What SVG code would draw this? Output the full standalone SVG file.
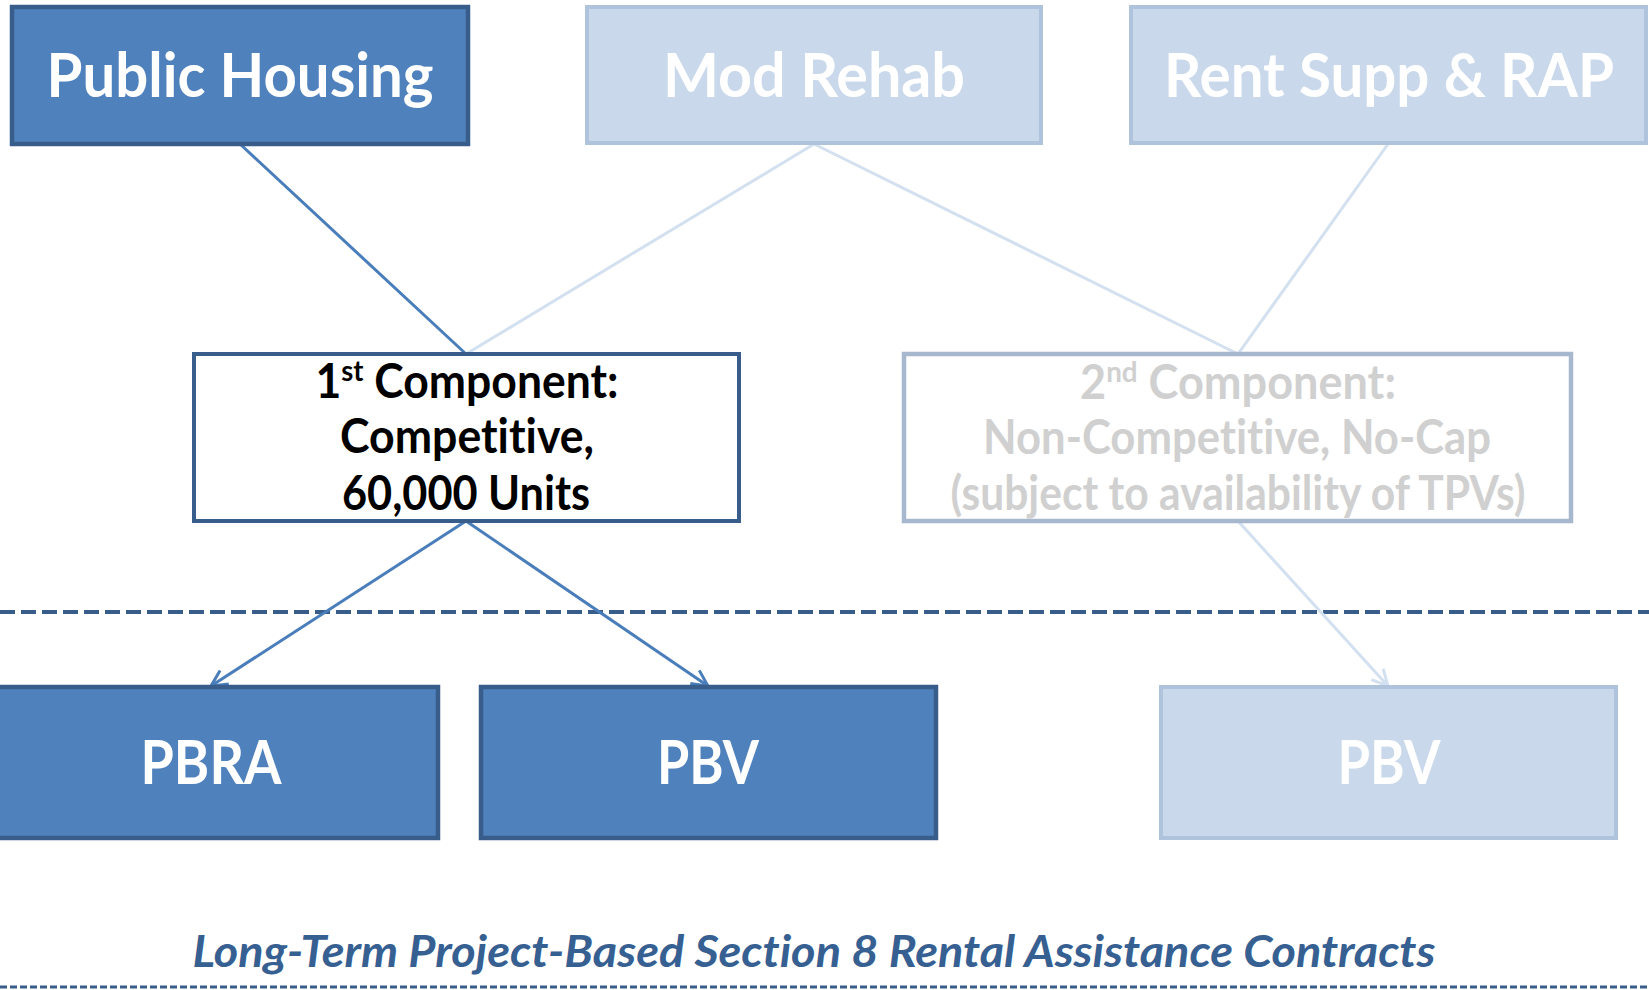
<svg xmlns="http://www.w3.org/2000/svg" width="1649" height="990" viewBox="0 0 1649 990">
<defs>
<style>
text{font-variant-ligatures:none}
.dark rect{fill:#4F81BD;stroke:#385D8A;stroke-width:4.5}
.light rect{fill:#C9D8EA;stroke:#B0C3DC;stroke-width:4}
.t{font-family:Lato,"Open Sans","Liberation Sans",sans-serif;font-weight:bold;text-anchor:middle}
.w{fill:#FFFFFF}
.big{font-size:62px}
.mid{font-size:47px}
.blk{fill:#000000}
.gry{fill:#D0D0D0}
.cd{stroke:#4A7EBB;stroke-width:3;fill:none}
.cl{stroke:#D3E0F0;stroke-width:3;fill:none}
.dash{fill:none;stroke:#385D8A}
</style>
<marker id="ad" viewBox="0 0 20 20" refX="18" refY="10" markerWidth="20" markerHeight="20" markerUnits="userSpaceOnUse" orient="auto">
<path d="M2,2 L18,10 L2,18" fill="none" stroke="#4A7EBB" stroke-width="3"/>
</marker>
<marker id="al" viewBox="0 0 20 20" refX="18" refY="10" markerWidth="20" markerHeight="20" markerUnits="userSpaceOnUse" orient="auto">
<path d="M2,2 L18,10 L2,18" fill="none" stroke="#D3E0F0" stroke-width="3"/>
</marker>
</defs>
<rect width="1649" height="990" fill="#FFFFFF"/>
<g id="dividers">
<line class="dash" x1="0" y1="612" x2="1649" y2="612" stroke-width="4" stroke-dasharray="15 6"/>
<line class="dash" x1="0" y1="987" x2="1649" y2="987" stroke-width="3" stroke-dasharray="7 3"/>
</g>
<g id="connectors">
<line class="cl" x1="814" y1="144" x2="466" y2="354"/>
<line class="cl" x1="814" y1="144" x2="1238" y2="354"/>
<line class="cl" x1="1388" y1="144" x2="1238" y2="354"/>
<line class="cd" x1="240" y1="144" x2="466" y2="354"/>
<line class="cd" x1="466" y1="521" x2="211" y2="686" marker-end="url(#ad)"/>
<line class="cd" x1="466" y1="521" x2="708" y2="686" marker-end="url(#ad)"/>
<line class="cl" x1="1238" y1="521" x2="1388" y2="686" marker-end="url(#al)"/>
</g>
<g id="public-housing" class="dark">
<rect x="12" y="7" width="456" height="137"/>
<text class="t w big" x="240" y="97" textLength="387" lengthAdjust="spacingAndGlyphs">Public Housing</text>
</g>
<g id="mod-rehab" class="light">
<rect x="587" y="7" width="454" height="136"/>
<text class="t w big" x="814" y="97" textLength="302" lengthAdjust="spacingAndGlyphs">Mod Rehab</text>
</g>
<g id="rent-supp" class="light">
<rect x="1131" y="7" width="515" height="136"/>
<text class="t w big" x="1389" y="97" textLength="450" lengthAdjust="spacingAndGlyphs">Rent Supp &amp; RAP</text>
</g>
<g id="first-component">
<rect x="194" y="354" width="545" height="167" fill="#FFFFFF" stroke="#385D8A" stroke-width="4"/>
<text class="t blk mid" x="467" y="398" textLength="303" lengthAdjust="spacingAndGlyphs">1<tspan font-size="29" dy="-17">st</tspan><tspan dy="17"> Component:</tspan></text>
<text class="t blk mid" x="467" y="453" textLength="254" lengthAdjust="spacingAndGlyphs">Competitive,</text>
<text class="t blk mid" x="466" y="510" textLength="248" lengthAdjust="spacingAndGlyphs">60,000 Units</text>
</g>
<g id="second-component">
<rect x="904" y="354" width="667" height="167" fill="#FFFFFF" stroke="#A7B8CE" stroke-width="4.5"/>
<text class="t gry mid" x="1238" y="399" textLength="316" lengthAdjust="spacingAndGlyphs">2<tspan font-size="29" dy="-17">nd</tspan><tspan dy="17"> Component:</tspan></text>
<text class="t gry mid" x="1237" y="454" textLength="508" lengthAdjust="spacingAndGlyphs">Non-Competitive, No-Cap</text>
<text class="t gry mid" x="1238" y="510" textLength="575" lengthAdjust="spacingAndGlyphs">(subject to availability of TPVs)</text>
</g>
<g id="pbra" class="dark">
<rect x="-18" y="687" width="456" height="151"/>
<text class="t w big" x="211" y="784" textLength="141" lengthAdjust="spacingAndGlyphs">PBRA</text>
</g>
<g id="pbv-1" class="dark">
<rect x="481" y="687" width="455" height="151"/>
<text class="t w big" x="708" y="784" textLength="102" lengthAdjust="spacingAndGlyphs">PBV</text>
</g>
<g id="pbv-2" class="light">
<rect x="1161" y="687" width="455" height="151"/>
<text class="t w big" x="1389" y="784" textLength="103" lengthAdjust="spacingAndGlyphs">PBV</text>
</g>
<g id="footer">
<text x="814" y="967" text-anchor="middle" font-family="Lato,'Open Sans','Liberation Sans',sans-serif" font-weight="bold" font-style="italic" font-size="44" fill="#376092" textLength="1243" lengthAdjust="spacingAndGlyphs">Long-Term Project-Based Section 8 Rental Assistance Contracts</text>
</g>
</svg>
